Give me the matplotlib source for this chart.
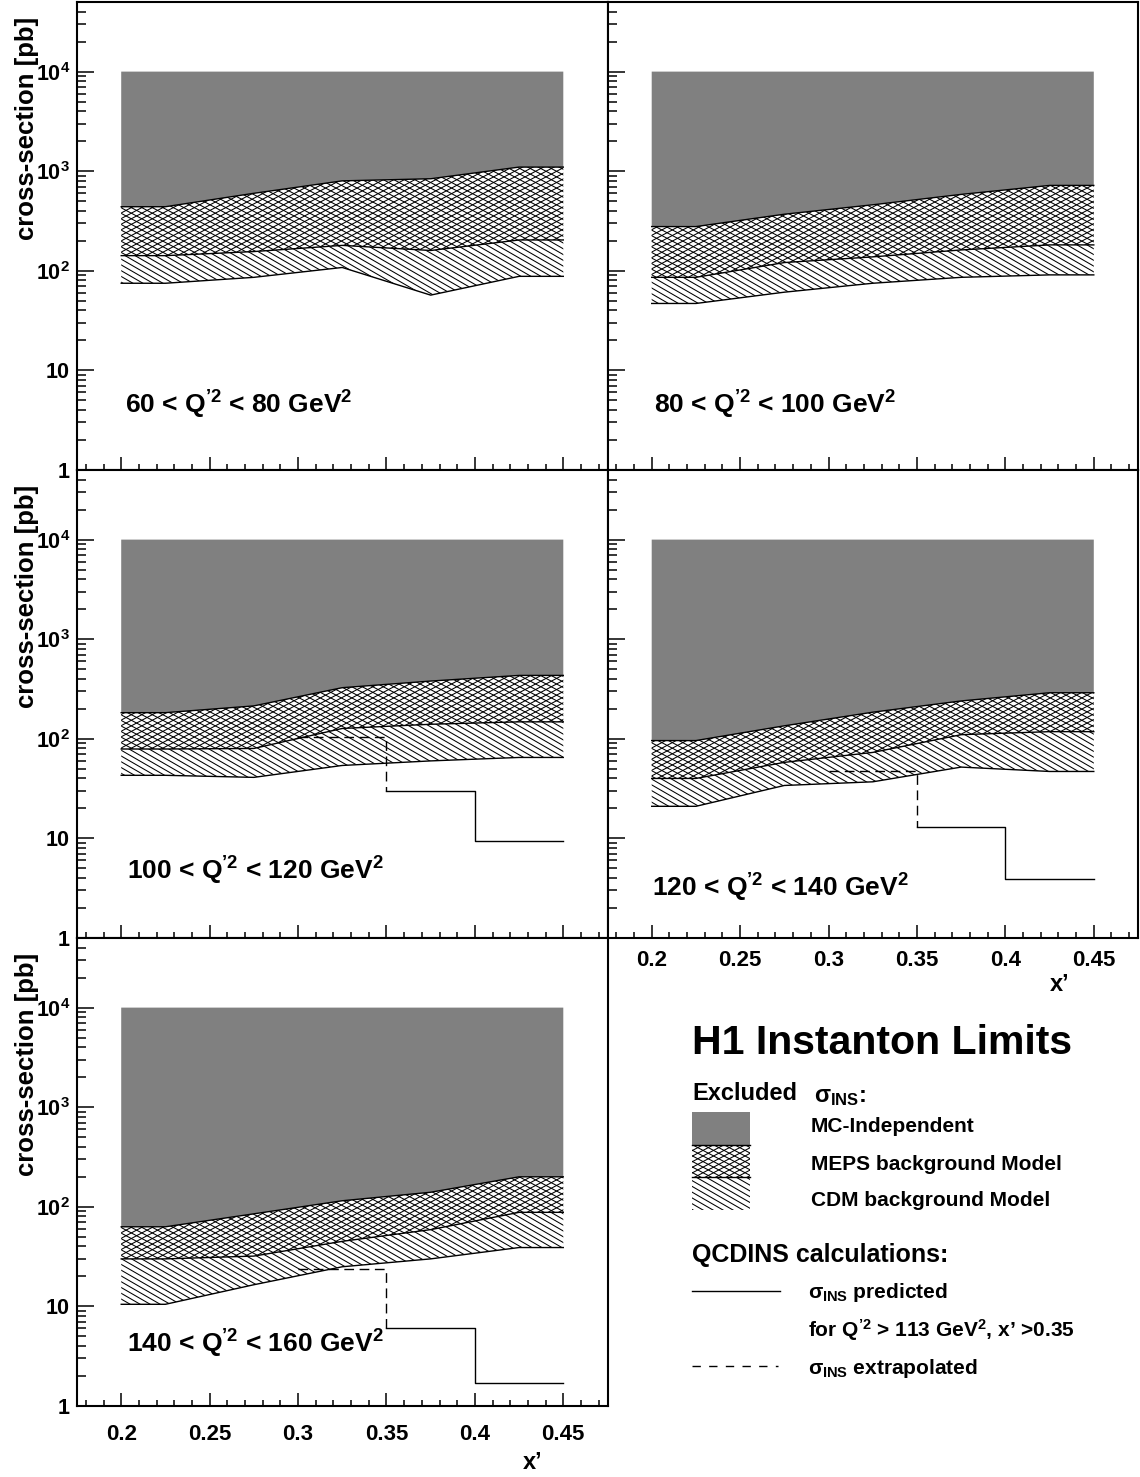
import numpy as np
import matplotlib
matplotlib.use('Agg')
import matplotlib.pyplot as plt
from matplotlib.patches import Polygon, Rectangle
from matplotlib.collections import LineCollection
from matplotlib.ticker import FixedLocator, LogLocator, MultipleLocator, FuncFormatter, NullFormatter

plt.rcParams['font.family'] = ['Liberation Sans', 'DejaVu Sans']
plt.rcParams['font.weight'] = 'bold'
plt.rcParams['mathtext.fontset'] = 'custom'
plt.rcParams['mathtext.rm'] = 'Liberation Sans:bold'
plt.rcParams['mathtext.it'] = 'Liberation Sans:bold'
plt.rcParams['mathtext.bf'] = 'Liberation Sans:bold'

# x' bin centres, the bands run flat out to the range edges
x_centres = [0.225, 0.275, 0.325, 0.375, 0.425]
x_range = [0.2, 0.45]
mc_top = 1e4

# excluded cross-section limits [pb]
meps_60 = [440, 600, 800, 840, 1100]
cdm_60 = [142, 156, 180, 160, 204]
low_60 = [75, 86, 108, 57, 88]

meps_80 = [278, 370, 460, 585, 720]
cdm_80 = [86, 121, 138, 162, 182]
low_80 = [47, 61, 75, 86, 91]

meps_100 = [183, 214, 326, 380, 433]
cdm_100 = [79, 80, 127, 140, 148]
low_100 = [43, 41, 54, 60, 65]

meps_120 = [96, 135, 185, 240, 290]
cdm_120 = [40, 58, 73, 110, 118]
low_120 = [21, 34, 37, 52, 47]

meps_140 = [63, 85, 115, 140, 200]
cdm_140 = [30, 32, 45, 59, 88]
low_140 = [10.5, 16.5, 25, 30, 39]

# QCDINS prediction, first bin extrapolated
ins_bins = [0.3, 0.35, 0.4, 0.45]
ins_100 = [105, 30, 9.5]
ins_120 = [47, 13, 3.9]
ins_140 = [24, 6.0, 1.7]

q_labels = ['60 < Q$^{\u20192}$ < 80 GeV$^{2}$', '80 < Q$^{\u20192}$ < 100 GeV$^{2}$',
            '100 < Q$^{\u20192}$ < 120 GeV$^{2}$', '120 < Q$^{\u20192}$ < 140 GeV$^{2}$',
            '140 < Q$^{\u20192}$ < 160 GeV$^{2}$']

W_PX, H_PX = 1140, 1477
fig = plt.figure(figsize=(W_PX / 100, H_PX / 100), dpi=100)


def hatch(ax, clip, angles, step, lw=0.75):
    bb = ax.get_position()
    W = bb.width * W_PX
    H = bb.height * H_PX
    segs = []
    for a in angles:
        t = np.tan(np.radians(a))
        span = H / abs(t)
        for c in np.arange(-span - step, W + span + step, step):
            segs.append([(0, -t * c / H), (1, t * (W - c) / H)])
    lc = LineCollection(segs, colors='black', linewidths=lw, transform=ax.transAxes, zorder=3)
    ax.add_collection(lc, autolim=False)
    lc.set_clip_path(clip)


def band(ax, x, lo, hi, angles, step):
    verts = np.c_[np.r_[x, x[::-1]], np.r_[lo, hi[::-1]]]
    poly = Polygon(verts, closed=True, transform=ax.transData, facecolor='none', edgecolor='none')
    hatch(ax, poly, angles, step)


def ylab(v, pos):
    e = int(round(np.log10(v)))
    if e == 0:
        return '1'
    if e == 1:
        return '10'
    return '10$^{%d}$' % e


def qcdins(ax, vals):
    b = ins_bins
    ax.plot([b[0], b[1], b[1]], [vals[0], vals[0], vals[1]], color='black', lw=1,
            ls=(0, (7, 4)), zorder=5)
    ax.plot([b[1], b[2], b[2], b[3]], [vals[1], vals[1], vals[2], vals[2]], color='black',
            lw=1, zorder=5)


left_x = [77 / W_PX, 607.5 / W_PX]
col_w = 530.5 / W_PX
row_b = [(H_PX - 470) / H_PX, (H_PX - 938) / H_PX, (H_PX - 1406) / H_PX]
row_h = 468 / H_PX

panels = [
    (0, 0, meps_60, cdm_60, low_60, None, (0.090, 0.120)),
    (0, 1, meps_80, cdm_80, low_80, None, (0.087, 0.120)),
    (1, 0, meps_100, cdm_100, low_100, ins_100, (0.094, 0.124)),
    (1, 1, meps_120, cdm_120, low_120, ins_120, (0.084, 0.088)),
    (2, 0, meps_140, cdm_140, low_140, ins_140, (0.094, 0.115)),
]

x = np.r_[x_range[0], x_centres, x_range[1]]
for i, (r, c, meps, cdm, low, ins, lpos) in enumerate(panels):
    ax = fig.add_axes([left_x[c], row_b[r], col_w, row_h])
    ax.set_yscale('log')
    ax.set_xlim(0.175, 0.475)
    ax.set_ylim(1, 5e4)

    meps_e = np.pad(np.array(meps, float), 1, mode='edge')
    cdm_e = np.pad(np.array(cdm, float), 1, mode='edge')
    low_e = np.pad(np.array(low, float), 1, mode='edge')

    ax.fill_between(x, meps_e, mc_top, facecolor='#808080', edgecolor='none', zorder=2)
    band(ax, x, cdm_e, meps_e, [28, -28], 10.5)
    band(ax, x, low_e, cdm_e, [-30], 10)
    for v in (meps_e, cdm_e, low_e):
        ax.plot(x, v, color='black', lw=1, zorder=4)
    if ins is not None:
        qcdins(ax, ins)

    ax.text(lpos[0], lpos[1], q_labels[i], transform=ax.transAxes, fontsize=19,
            ha='left', va='baseline', zorder=6)

    for s in ax.spines.values():
        s.set_linewidth(1.5)
    ax.xaxis.set_major_locator(MultipleLocator(0.05))
    ax.xaxis.set_minor_locator(MultipleLocator(0.01))
    ax.yaxis.set_major_locator(FixedLocator([1, 10, 100, 1e3, 1e4]))
    ax.yaxis.set_minor_locator(LogLocator(base=10, subs=np.arange(2, 10), numticks=20))
    ax.yaxis.set_major_formatter(FuncFormatter(ylab))
    ax.yaxis.set_minor_formatter(NullFormatter())
    ax.xaxis.set_major_formatter(FuncFormatter(lambda v, p: ('%.2f' % v).rstrip('0')))
    xpad = 8.7 if (r, c) == (1, 1) else 13
    ax.tick_params(axis='x', which='major', direction='in', length=9.5, width=1.1,
                   top=False, labelsize=16, pad=xpad)
    ax.tick_params(axis='x', which='minor', direction='in', length=4.5, width=1.1, top=False)
    ax.tick_params(axis='y', which='major', direction='in', length=12.5, width=1.1,
                   right=False, labelsize=15.5, pad=5)
    ax.tick_params(axis='y', which='minor', direction='in', length=6.5, width=1.1, right=False)

    show_x = (r, c) in [(2, 0), (1, 1)]
    ax.tick_params(axis='x', labelbottom=show_x)
    ax.tick_params(axis='y', labelleft=(c == 0))
    if c == 0:
        ax.text(-0.094, 0.968, 'cross-section [pb]', transform=ax.transAxes, rotation=90,
                ha='center', va='top', fontsize=18.5)
    if (r, c) == (2, 0):
        ax.text(0.859, -0.12, 'x\u2019', transform=ax.transAxes, ha='center', va='center',
                fontsize=17)
    if (r, c) == (1, 1):
        ax.text(0.853, -0.10, 'x\u2019', transform=ax.transAxes, ha='center', va='center',
                fontsize=17)

# legend block in the empty bottom-right corner, pixel coordinates
lg = fig.add_axes([609 / W_PX, 0, 531 / W_PX, 539 / H_PX])
lg.set_xlim(609, 1140)
lg.set_ylim(1477, 938)
lg.axis('off')
lg.patch.set_visible(False)

lg.text(882, 1043, 'H1 Instanton Limits', fontsize=29.5, ha='center', va='center')
lg.text(692, 1094, 'Excluded', fontsize=17, ha='left', va='center')
lg.text(814, 1096, '$\\sigma_{INS}$:', fontsize=17, ha='left', va='center')

lg.add_patch(Rectangle((692, 1112), 58, 33, facecolor='#808080', edgecolor='none'))
r1 = Rectangle((692, 1145), 58, 32, transform=lg.transData)
r2 = Rectangle((692, 1177), 58, 33, transform=lg.transData)
hatch(lg, r1, [28, -28], 10.5)
hatch(lg, r2, [-30], 10)
lg.plot([692, 750], [1145, 1145], color='black', lw=1)
lg.plot([692, 750], [1177, 1177], color='black', lw=1)

lg.text(811, 1127, 'MC-Independent', fontsize=15, ha='left', va='center')
lg.text(811, 1164, 'MEPS background Model', fontsize=15, ha='left', va='center')
lg.text(811, 1201, 'CDM background Model', fontsize=15, ha='left', va='center')

lg.text(692, 1255, 'QCDINS calculations:', fontsize=18, ha='left', va='center')
lg.plot([692, 780], [1291, 1291], color='black', lw=1)
lg.text(808, 1293, '$\\sigma_{INS}$ predicted', fontsize=15, ha='left', va='center')
lg.text(808, 1330, 'for Q$^{\u20192}$ > 113 GeV$^{2}$, x\u2019 >0.35', fontsize=15,
        ha='left', va='center')
lg.plot([692, 778], [1366, 1366], color='black', lw=1, ls=(0, (6, 6)))
lg.text(808, 1368, '$\\sigma_{INS}$ extrapolated', fontsize=15, ha='left', va='center')

fig.savefig('out.png', dpi=100)
